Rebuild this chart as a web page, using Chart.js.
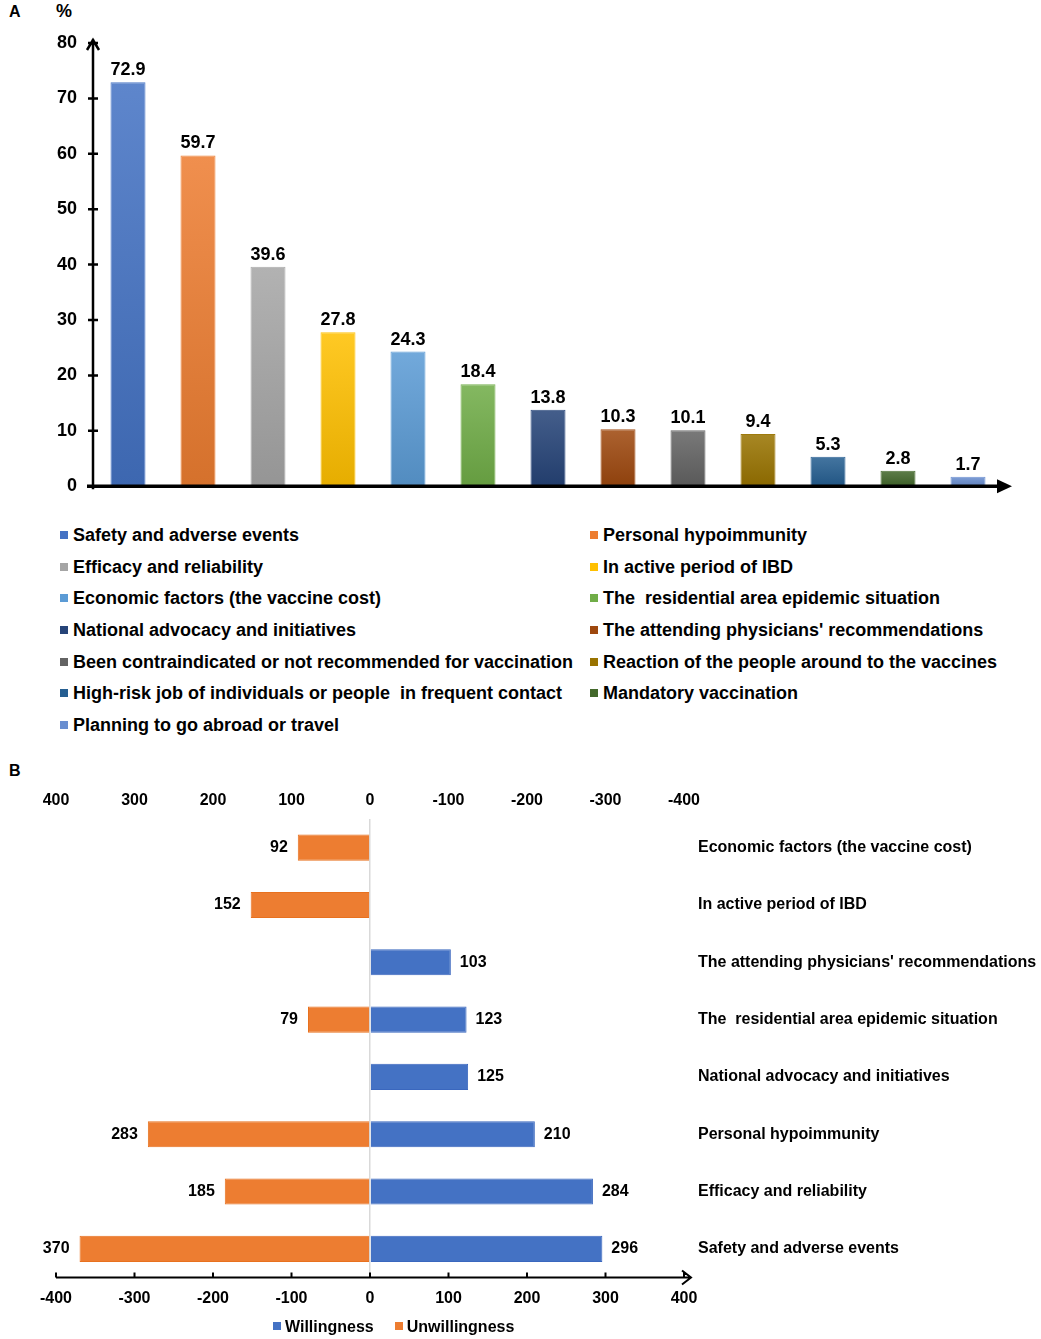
<!DOCTYPE html>
<html>
<head>
<meta charset="utf-8">
<script src="https://cdn.jsdelivr.net/npm/chart.js@4/dist/chart.umd.min.js"></script>
<style>
  body { margin: 0; background: #fff; font-family: "Liberation Sans", Arial, sans-serif; }
  #page { position: relative; width: 1041px; height: 1339px; overflow: hidden; }
  canvas { position: absolute; left: 0; }
  #chartA { top: 0; }
  #chartB { top: 761px; }
  .tag { position: absolute; font-weight: bold; color: #000; }
  #legendA { position: absolute; left: 60px; top: 520px; display: grid; grid-template-columns: 530px 450px; }
  #legendA div, #legendB span { font-weight: bold; color: #000; white-space: pre; }
  #legendA div { font-size: 18px; line-height: 31.7px; height: 31.7px; }
  .sq { display: inline-block; width: 8px; height: 8px; margin-right: 5px; vertical-align: 2px; }
  #legendB { position: absolute; left: 273px; top: 1316px; font-size: 16px; line-height: 22px; }
  #legendB span.item { margin-right: 21px; }
  #legendB .sq { margin-right: 4px; }
</style>
</head>
<body>
<div id="page">
  <div class="tag" style="left:9px;top:3px;font-size:16px;">A</div>
  <div class="tag" style="left:56px;top:1px;font-size:18px;">%</div>
  <div class="tag" style="left:9px;top:762px;font-size:16px;">B</div>
  <canvas id="chartA" width="1041" height="505"></canvas>
  <div id="legendA"></div>
  <canvas id="chartB" width="1041" height="560"></canvas>
  <div id="legendB"></div>
</div>
<script>
window.addEventListener("DOMContentLoaded", () => {

// panel A data
    const reasonsA = [
        "Safety and adverse events",
        "Personal hypoimmunity",
        "Efficacy and reliability",
        "In active period of IBD",
        "Economic factors (the vaccine cost)",
        "The  residential area epidemic situation",
        "National advocacy and initiatives",
        "The attending physicians' recommendations",
        "Been contraindicated or not recommended for vaccination",
        "Reaction of the people around to the vaccines",
        "High-risk job of individuals or people  in frequent contact",
        "Mandatory vaccination",
        "Planning to go abroad or travel"
    ];
    const percentA = [72.9, 59.7, 39.6, 27.8, 24.3, 18.4, 13.8, 10.3, 10.1, 9.4, 5.3, 2.8, 1.7];

// panel B data
    const reasonsB = [
        "Economic factors (the vaccine cost)",
        "In active period of IBD",
        "The attending physicians' recommendations",
        "The  residential area epidemic situation",
        "National advocacy and initiatives",
        "Personal hypoimmunity",
        "Efficacy and reliability",
        "Safety and adverse events"
    ];
    const willingness = [null, null, 103, 123, 125, 210, 284, 296];
    const unwillingness = [92, 152, null, 79, null, 283, 185, 370];
    const seriesNamesB = ["Willingness", "Unwillingness"];

    // office kleuren
    const paletteA = ["#4472C4", "#ED7D31", "#A5A5A5", "#FFC000", "#5B9BD5", "#70AD47", "#264478",
                      "#9E480E", "#636363", "#997300", "#255E91", "#43682B", "#698ED0"];
    const blue = "#4472C4", orange = "#ED7D31";
    const boldFont = size => ({ family: "'Liberation Sans', Arial, sans-serif", size, weight: "bold" });

    function shade(hex, f) {
        const n = parseInt(hex.slice(1), 16);
        let rgb = [n >> 16, (n >> 8) & 255, n & 255];
        rgb = rgb.map(c => f > 0 ? c + (255 - c) * f : c * (1 + f));
        return `rgb(${rgb.map(Math.round).join(",")})`;
    }

    // assen met pijlen voor A
    const axesA = {
        id: "axesA",
        afterDatasetsDraw(chart) {
            const { ctx, chartArea: a, scales } = chart;
            ctx.save();
            ctx.strokeStyle = "#000";
            ctx.fillStyle = "#000";
            ctx.lineWidth = 2.5;
            ctx.beginPath();
            ctx.moveTo(a.left, a.bottom + 3);
            ctx.lineTo(a.left, a.top - 4);
            ctx.moveTo(a.left - 6, a.top + 7);
            ctx.lineTo(a.left, a.top - 3);
            ctx.lineTo(a.left + 6, a.top + 7);
            scales.y.ticks.forEach(t => {
                const y = scales.y.getPixelForValue(t.value);
                ctx.moveTo(a.left - 5, y);
                ctx.lineTo(a.left + 5, y);
            });
            ctx.stroke();
            ctx.lineWidth = 3.5;
            ctx.beginPath();
            ctx.moveTo(a.left - 6, a.bottom);
            ctx.lineTo(a.right - 2, a.bottom);
            ctx.stroke();
            ctx.beginPath();
            ctx.moveTo(a.right + 9, a.bottom);
            ctx.lineTo(a.right - 6, a.bottom - 7);
            ctx.lineTo(a.right - 6, a.bottom + 7);
            ctx.closePath();
            ctx.fill();

            // waarden boven de staven
            ctx.font = "bold 18px 'Liberation Sans', Arial, sans-serif";
            ctx.textAlign = "center";
            ctx.textBaseline = "middle";
            chart.getDatasetMeta(0).data.forEach((bar, i) => {
                ctx.fillText(percentA[i].toFixed(1), bar.x, bar.y - 12);
            });
            ctx.restore();
        }
    };

    new Chart(document.getElementById("chartA"), {
        type: "bar",
        data: {
            labels: reasonsA,
            datasets: [{
                data: percentA,
                backgroundColor: c => {
                    const col = paletteA[c.dataIndex];
                    if (!c.chart.chartArea || c.raw == null) return col;
                    const y = c.chart.scales.y;
                    const g = c.chart.ctx.createLinearGradient(0, y.getPixelForValue(c.raw), 0, y.getPixelForValue(0));
                    g.addColorStop(0, shade(col, 0.14));
                    g.addColorStop(1, shade(col, -0.1));
                    return g;
                },
                borderColor: c => shade(paletteA[c.dataIndex], 0.05),
                borderWidth: 1,
                barPercentage: 0.5,
                categoryPercentage: 1
            }]
        },
        options: {
            responsive: false,
            animation: false,
            layout: { padding: { top: 43, right: 38, bottom: 2, left: 0 } },
            plugins: { legend: { display: false }, tooltip: { enabled: false } },
            scales: {
                x: { display: false },
                y: {
                    min: 0, max: 80,
                    ticks: { stepSize: 10, padding: 8, color: "#000", font: boldFont(18) },
                    grid: { display: false },
                    border: { display: false },
                    afterFit: s => { s.width = 93; }
                }
            }
        },
        plugins: [axesA]
    });

    // legenda A in twee kolommen
    const legendA = document.getElementById("legendA");
    reasonsA.forEach((r, i) => {
        legendA.innerHTML += `<div><span class="sq" style="background:${paletteA[i]}"></span>${r}</div>`;
    });

    // onderste as + labels voor B
    const axesB = {
        id: "axesB",
        afterDatasetsDraw(chart) {
            const { ctx, chartArea: a, scales } = chart;
            const y0 = a.bottom;
            ctx.save();
            ctx.strokeStyle = "#000";
            ctx.lineWidth = 2;
            ctx.beginPath();
            ctx.moveTo(a.left, y0);
            ctx.lineTo(a.right + 6, y0);
            scales.x.ticks.forEach(t => {
                const x = scales.x.getPixelForValue(t.value);
                ctx.moveTo(x, y0);
                ctx.lineTo(x, y0 - 5);
            });
            ctx.moveTo(a.right - 2, y0 - 7);
            ctx.lineTo(a.right + 7, y0);
            ctx.lineTo(a.right - 2, y0 + 7);
            ctx.stroke();

            ctx.fillStyle = "#000";
            ctx.font = "bold 16px 'Liberation Sans', Arial, sans-serif";
            ctx.textBaseline = "middle";
            chart.data.datasets.forEach((ds, di) => {
                chart.getDatasetMeta(di).data.forEach((bar, i) => {
                    const v = ds.data[i];
                    if (v == null) return;
                    ctx.textAlign = v > 0 ? "left" : "right";
                    ctx.fillText(String(Math.abs(v)), v > 0 ? bar.x + 9 : bar.x - 10, bar.y);
                });
            });
            ctx.restore();
        }
    };

    new Chart(document.getElementById("chartB"), {
        type: "bar",
        data: {
            labels: reasonsB,
            datasets: [
                { label: seriesNamesB[0], data: willingness, backgroundColor: blue, borderColor: "#3A67BE", borderWidth: 1 },
                { label: seriesNamesB[1], data: unwillingness.map(v => v == null ? null : -v), backgroundColor: orange, borderColor: "#E8711F", borderWidth: 1 }
            ]
        },
        options: {
            indexAxis: "y",
            responsive: false,
            animation: false,
            datasets: { bar: { barPercentage: 0.455, categoryPercentage: 1 } },
            layout: { padding: { top: 0, right: 0, bottom: 0, left: 56 } },
            plugins: { legend: { display: false }, tooltip: { enabled: false } },
            scales: {
                x: {
                    position: "bottom",
                    stacked: true,
                    min: -400, max: 400,
                    ticks: { stepSize: 100, padding: 11, color: "#000", font: boldFont(16) },
                    grid: { color: c => c.tick && c.tick.value === 0 ? "#d9d9d9" : "rgba(0,0,0,0)", lineWidth: 1.5, drawTicks: false },
                    border: { display: false },
                    afterFit: s => { s.height = 43.5; }
                },
                xTop: {
                    type: "linear",
                    axis: "x",
                    position: "top",
                    min: -400, max: 400,
                    ticks: { stepSize: 100, padding: 1, color: "#000", font: boldFont(16), callback: v => String(-v) },
                    grid: { display: false },
                    border: { display: false },
                    afterFit: s => { s.height = 58; }
                },
                y: {
                    position: "right",
                    stacked: true,
                    ticks: { padding: 6, color: "#000", font: boldFont(16) },
                    grid: { display: false },
                    border: { display: false },
                    afterFit: s => { s.width = 357; }
                }
            }
        },
        plugins: [axesB]
    });

    // legenda B
    document.getElementById("legendB").innerHTML = seriesNamesB.map((n, i) =>
        `<span class="item"><span class="sq" style="background:${i === 0 ? blue : orange}"></span><span>${n}</span></span>`
    ).join("");

});
</script>
</body>
</html>
